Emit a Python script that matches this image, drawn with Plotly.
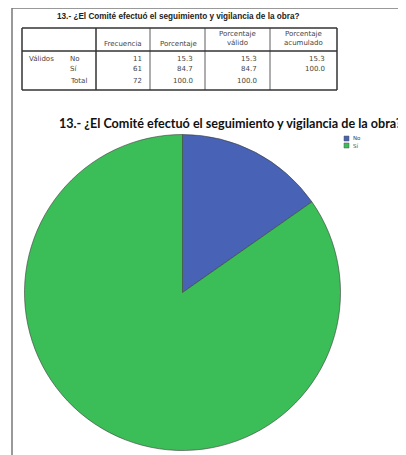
import plotly.graph_objects as go

# page body has an 8px default margin; the figure is sized to fill the rest
OFF = 8
W, H = 406 - OFF, 455 - OFF

# ---- data ----
title_text = "13.- ¿El Comité efectuó el seguimiento y vigilancia de la obra?"
categories = ["No", "Sí"]
frecuencia = [11, 61]
porcentaje = [15.3, 84.7]
porcentaje_valido = [15.3, 84.7]
porcentaje_acumulado = [15.3, 100.0]
total_label = "Total"
total_frecuencia = 72
total_porcentaje = 100.0
total_valido = 100.0
group_label = "Válidos"
col_headers = ["Frecuencia", "Porcentaje", "Porcentaje<br>válido", "Porcentaje<br>acumulado"]
slice_colors = ["#4862B6", "#3BBE58"]


def px(x):
    return (x - OFF) / W


def py(y):
    return 1 - (y - OFF) / H


fig = go.Figure()

# pie
cx, cy, r = 182.5, 292.5, 158
fig.add_trace(go.Pie(
    labels=categories, values=frecuencia, sort=False, direction="clockwise",
    rotation=0, textinfo="none", hoverinfo="label+value+percent",
    marker=dict(colors=slice_colors, line=dict(color="#3d3d3d", width=0.6)),
    domain=dict(x=[px(cx - r), px(cx + r)], y=[py(cy + r), py(cy - r)]),
    showlegend=False,
))

shapes = []
annotations = []


def line(x0, y0, x1, y1, color="#333", width=1.0):
    shapes.append(dict(type="line", xref="paper", yref="paper",
                       x0=px(x0), y0=py(y0), x1=px(x1), y1=py(y1),
                       line=dict(color=color, width=width)))


def text(x, y, s, size=7, anchor="center", bold=False, color="#333", family="DejaVu Sans"):
    annotations.append(dict(xref="paper", yref="paper", x=px(x), y=py(y), text=(f"<b>{s}</b>" if bold else s),
                            showarrow=False, xanchor=anchor, yanchor="middle",
                            font=dict(size=size, color=color, family=family)))


# outer frame
line(12, 8, 406, 8, color="#777", width=1.5)
line(12, 8, 12, 455, color="#777", width=1.5)

# table
tl, tr, tt, tb = 22, 337, 28, 90
line(tl, tt, tr, tt, width=1.5)
line(tl, tb, tr, tb, width=1.5)
line(tl, tt, tl, tb, width=1.5)
line(tr, tt, tr, tb, width=1.5)
line(tl, 51, tr, 51, width=1.5)
line(96, tt, 96, tb, width=1.5)
for xv in [150, 205, 270]:
    line(xv, tt, xv, tb, width=0.8)

text(178.5, 16, title_text, size=8.2, bold=True, family="Liberation Sans", color="#222")

hdr_x = [123, 178, 238, 303]
hdr_y = [44, 44, 38, 38]
for hx, hy, h in zip(hdr_x, hdr_y, col_headers):
    text(hx, hy, h, size=7, color="#444")

rows_y = [59, 69.5, 80.5]
text(27, rows_y[0], group_label, size=7, anchor="left", color="#444")
for yy, lab in zip(rows_y, categories + [total_label]):
    text(68, yy, lab, size=7, anchor="left", color="#444")

rights = [144, 195, 259, 327]
for i in range(len(categories)):
    vals = [str(frecuencia[i]), f"{porcentaje[i]:.1f}", f"{porcentaje_valido[i]:.1f}", f"{porcentaje_acumulado[i]:.1f}"]
    for xr, v in zip(rights, vals):
        text(xr, rows_y[i], v, size=7, anchor="right", color="#444")
tot_vals = [str(total_frecuencia), f"{total_porcentaje:.1f}", f"{total_valido:.1f}"]
for xr, v in zip(rights, tot_vals):
    text(xr, rows_y[2], v, size=7, anchor="right", color="#444")

# chart title
text(57, 124, title_text, size=12.6, bold=True, anchor="left", color="#111", family="Lato")

# legend (manual)
for i, (lab, col) in enumerate(zip(categories, slice_colors)):
    yy = 138.5 + 7 * i
    shapes.append(dict(type="rect", xref="paper", yref="paper",
                       x0=px(344), x1=px(349), y0=py(yy + 2.5), y1=py(yy - 2.5),
                       fillcolor=col, line=dict(color="#555", width=0.5)))
    text(350.5, yy, lab, size=5.5, anchor="left", color="#444")

fig.update_layout(
    width=W, height=H, margin=dict(l=0, r=0, t=0, b=0),
    paper_bgcolor="white", plot_bgcolor="white",
    shapes=shapes, annotations=annotations,
)

fig.write_html("out.html")
